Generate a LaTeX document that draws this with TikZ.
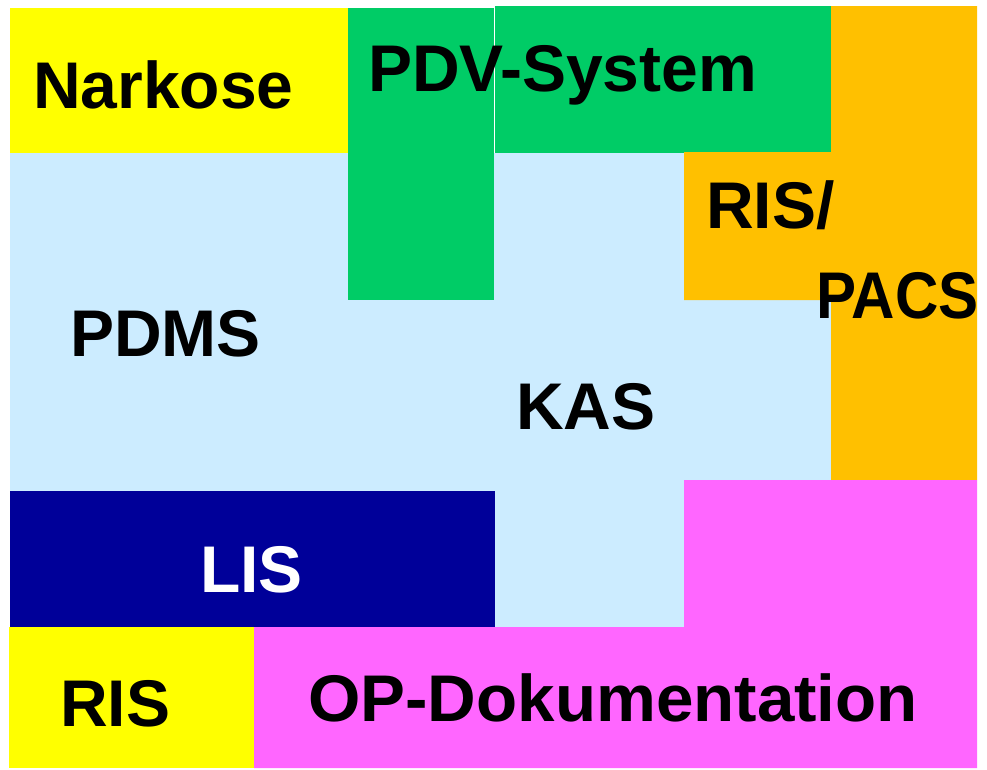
\documentclass[tikz,border=0pt]{standalone}
\usepackage{fontspec}
\setmainfont{Liberation Sans}
\usepackage{tikz}

\definecolor{narkgelb}{HTML}{FFFF00}
\definecolor{pdvgruen}{HTML}{00CC66}
\definecolor{risorange}{HTML}{FFC000}
\definecolor{kasblau}{HTML}{CCECFF}
\definecolor{lisblau}{HTML}{000099}
\definecolor{oprosa}{HTML}{FF66FF}

\tikzset{
  sysname/.style={anchor=base west, inner sep=0pt,
    font=\fontsize{66}{70}\selectfont\bfseries},
}

\begin{document}
\begin{tikzpicture}[x=1pt, y=-1pt]
            \useasboundingbox (0,0) rectangle (987,769);

            % flaechen
            \fill[kasblau] (10,153) rectangle (831,627);
            \fill[narkgelb] (10,8) rectangle (348,153);
            \fill[pdvgruen] (348,8) rectangle (494,300);
            \fill[pdvgruen] (495,6) rectangle (831,153);
            \fill[risorange] (831,6) -- (977,6) -- (977,480) -- (831,480) -- (831,300)
                -- (684,300) -- (684,152) -- (831,152) -- cycle;
            \fill[lisblau] (10,491) rectangle (495,627);
            \fill[oprosa] (684,480) -- (977,480) -- (977,768) -- (254,768) -- (254,627)
                -- (684,627) -- cycle;
            \fill[narkgelb] (9,627) rectangle (254,768);

            % beschriftung
            \node[sysname] at (33,108) (nark) {Narkose};
            \node[sysname] at (368,91) (pdv) {PDV-System};
            \node[sysname] at (706,228) (ris1) {RIS/};
            \node[sysname] at (816,318) (pacs) {\scalebox{0.91}[1]{PACS}};
            \node[sysname] at (70,356) (pdms) {PDMS};
            \node[sysname] at (516,429) (kas) {KAS};
            \node[sysname, text=white] at (200,592) (lis) {LIS};
            \node[sysname] at (60,726) (ris2) {RIS};
            \node[sysname] at (308,721) (opdok) {\scalebox{1.02}[1]{OP-Dokumentation}};
        \end{tikzpicture}
\end{document}
